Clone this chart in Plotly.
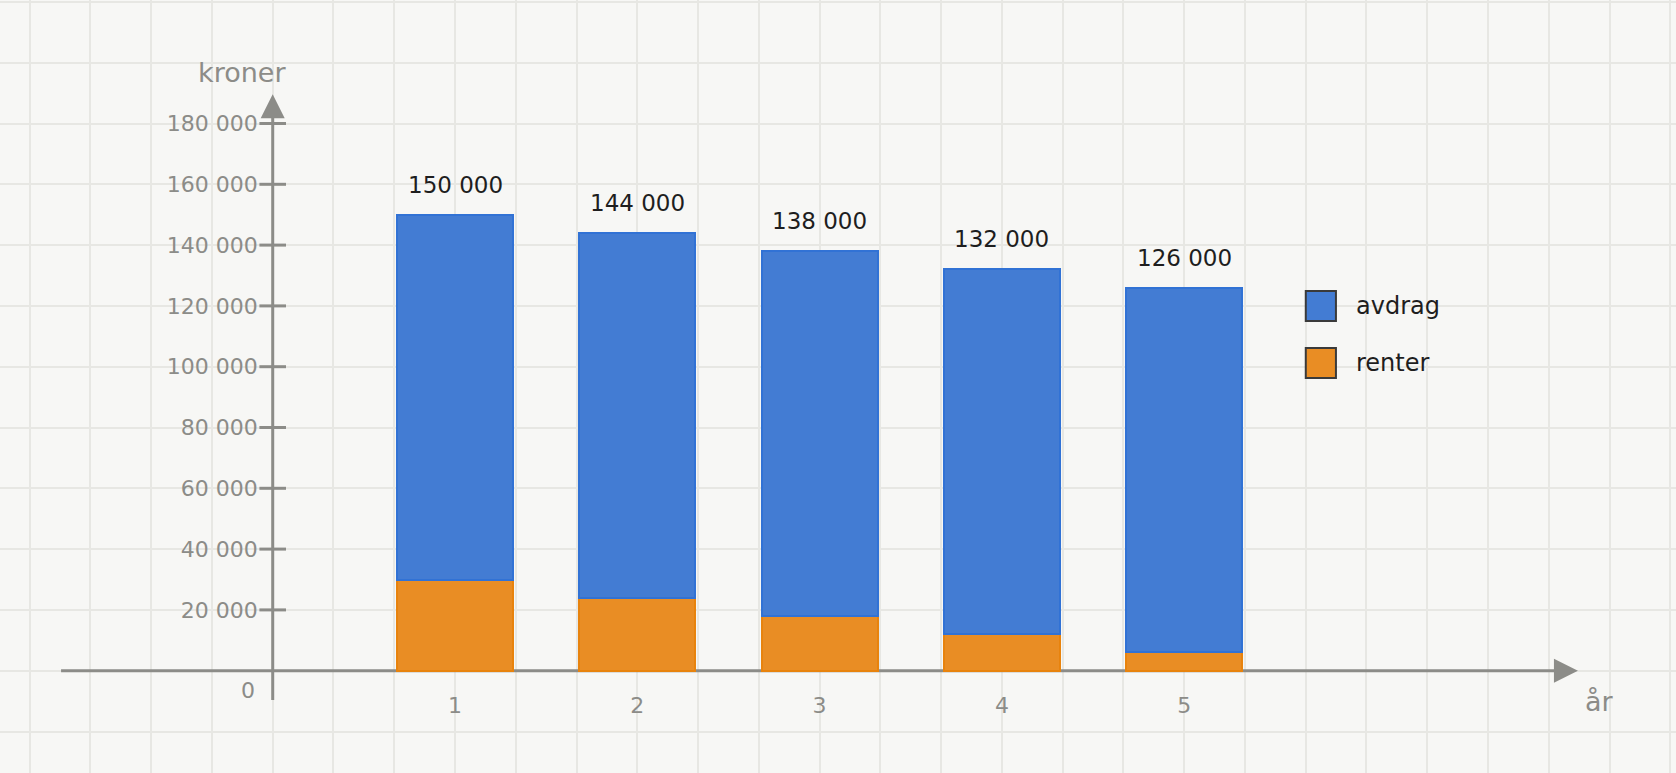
import plotly.graph_objects as go

# Data: annual payments on a serial loan (kroner)
years = [1, 2, 3, 4, 5]
year_labels = ["1", "2", "3", "4", "5"]
renter = [30000, 24000, 18000, 12000, 6000]
avdrag = [120000, 120000, 120000, 120000, 120000]
totals = [a + r for a, r in zip(avdrag, renter)]

y_tickvals = [20000, 40000, 60000, 80000, 100000, 120000, 140000, 160000, 180000]
y_ticktext = ["20 000", "40 000", "60 000", "80 000", "100 000",
              "120 000", "140 000", "160 000", "180 000"]

series_names = ["avdrag", "renter"]

# Styling
bg = "#F7F7F5"
grid_col = "#E7E7E3"
axis_col = "#8C8C88"
text_col = "#1E1E1E"
fill_cols = {"avdrag": "#437CD3", "renter": "#E98D24"}
edge_cols = {"avdrag": "#3172D5", "renter": "#E8830D"}
font_family = "DejaVu Sans, sans-serif"

# Visible window in data units (grid cell = 1/3 year = 20 000 kr)
x_range = [-1.496, 7.698]
y_range = [-33650, 220625]
x_axis_ext = [-1.161, 7.16]
y_axis_ext = [-9640, 189600]

fig = go.Figure()

fig.add_trace(go.Bar(
    x=years, y=renter, name="renter", width=0.636,
    marker=dict(color=fill_cols["renter"], line=dict(color=edge_cols["renter"], width=2)),
))
fig.add_trace(go.Bar(
    x=years, y=avdrag, name="avdrag", width=0.636,
    marker=dict(color=fill_cols["avdrag"], line=dict(color=edge_cols["avdrag"], width=2)),
))

# crossing tick marks on the y axis
fig.add_trace(go.Scatter(
    x=[0] * len(y_tickvals), y=y_tickvals, mode="markers",
    marker=dict(symbol="line-ew", size=19, line=dict(color=axis_col, width=3)),
    hoverinfo="skip", showlegend=False,
))

# arrow heads at the ends of both axes
fig.add_trace(go.Scatter(
    x=[x_axis_ext[1], 0], y=[0, y_axis_ext[1]], mode="markers",
    marker=dict(symbol=["arrow-right", "arrow-up"], size=24, color=axis_col,
                line=dict(width=0)),
    hoverinfo="skip", showlegend=False,
))

# axis lines (between the grid and the bars)
shapes = [
    dict(type="line", xref="x", yref="y", x0=x_axis_ext[0], x1=x_axis_ext[1] - 0.05,
         y0=0, y1=0, line=dict(color=axis_col, width=3), layer="between"),
    dict(type="line", xref="x", yref="y", x0=0, x1=0, y0=y_axis_ext[0],
         y1=y_axis_ext[1] - 4000, line=dict(color=axis_col, width=3), layer="between"),
]

annotations = []

# totals above the bars
for x, t in zip(years, totals):
    annotations.append(dict(
        x=x, y=t, xref="x", yref="y", text=f"{t:,}".replace(",", " "),
        showarrow=False, yanchor="middle", yshift=30,
        font=dict(size=23, color=text_col, family=font_family),
    ))

# axis titles and origin label
annotations.append(dict(
    x=0, y=y_axis_ext[1], xref="x", yref="y", text="kroner", showarrow=False,
    xanchor="center", yanchor="middle", xshift=-31, yshift=22,
    font=dict(size=27, color=axis_col, family=font_family),
))
annotations.append(dict(
    x=x_axis_ext[1], y=0, xref="x", yref="y", text="år", showarrow=False,
    xanchor="center", yanchor="middle", xshift=22, yshift=-31,
    font=dict(size=27, color=axis_col, family=font_family),
))
annotations.append(dict(
    x=0, y=0, xref="x", yref="y", text="0", showarrow=False,
    xanchor="right", yanchor="middle", xshift=-16, yshift=-20,
    font=dict(size=22, color=axis_col, family=font_family),
))

# hand-made legend with large swatches
legend_x = 0.7791
legend_top = 0.6235
swatch_h = 0.0388
row_gap = 0.0737
for i, name in enumerate(series_names):
    top = legend_top - i * row_gap
    shapes.append(dict(
        type="rect", xref="paper", yref="paper",
        x0=legend_x, x1=legend_x + 0.0180, y0=top - swatch_h, y1=top,
        fillcolor=fill_cols[name], line=dict(color="#3A3A3A", width=2),
    ))
    annotations.append(dict(
        x=0.8079, y=top - swatch_h / 2, xref="paper", yref="paper", text=name,
        showarrow=False, xanchor="left", yanchor="middle",
        font=dict(size=24, color=text_col, family=font_family),
    ))

x_zero = (0 - x_range[0]) / (x_range[1] - x_range[0])
y_zero = (0 - y_range[0]) / (y_range[1] - y_range[0])

fig.update_layout(
    width=1676,
    height=773,
    barmode="stack",
    showlegend=False,
    plot_bgcolor=bg,
    paper_bgcolor=bg,
    margin=dict(l=0, r=0, t=0, b=0),
    font=dict(family=font_family, size=22, color=axis_col),
    xaxis=dict(
        range=x_range, tickmode="array", tickvals=years, ticktext=year_labels,
        showgrid=True, gridcolor=grid_col, gridwidth=1.5,
        minor=dict(tickmode="linear", tick0=0, dtick=1 / 3, showgrid=True,
                   gridcolor=grid_col, gridwidth=1.5),
        zeroline=False, showline=False, ticks="",
        anchor="free", position=y_zero, ticklabelstandoff=19,
        tickfont=dict(size=22, color=axis_col), fixedrange=True,
    ),
    yaxis=dict(
        range=y_range, tickmode="array", tickvals=y_tickvals, ticktext=y_ticktext,
        showgrid=True, gridcolor=grid_col, gridwidth=1.5,
        minor=dict(tickmode="linear", tick0=0, dtick=20000, showgrid=True,
                   gridcolor=grid_col, gridwidth=1.5),
        zeroline=False, showline=False, ticks="",
        anchor="free", position=x_zero, ticklabelstandoff=15,
        tickfont=dict(size=22, color=axis_col), fixedrange=True,
    ),
    annotations=annotations,
    shapes=shapes,
)

fig.write_html("out.html", config={"displayModeBar": False},
               post_script="document.body.style.margin='0';")
